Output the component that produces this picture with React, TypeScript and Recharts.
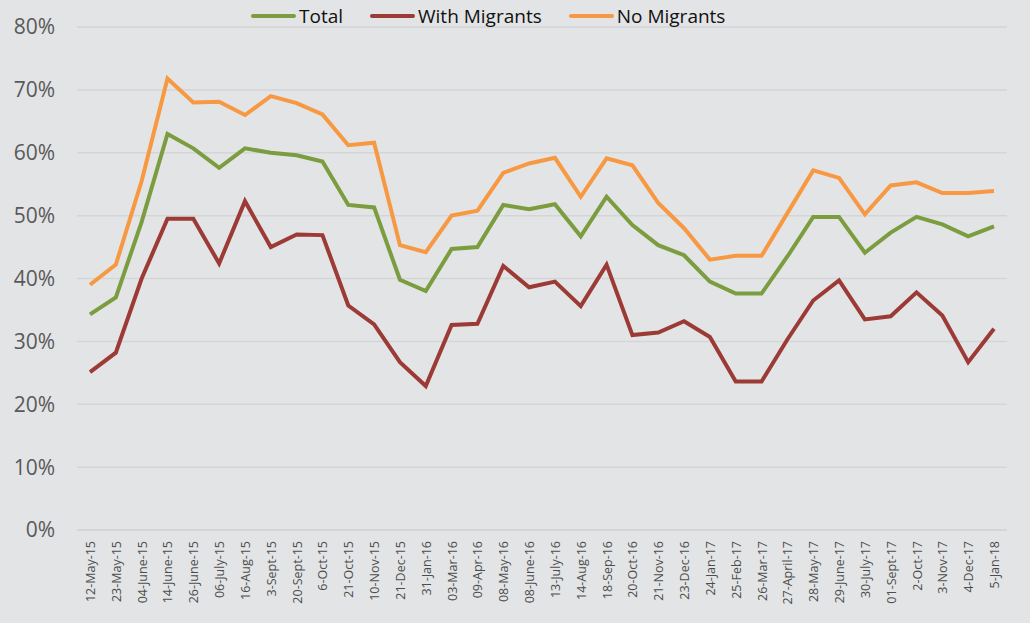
import React from 'react';
import { LineChart, Line, XAxis, YAxis, CartesianGrid } from 'recharts';

const dates = [
    '12-May-15', '23-May-15', '04-June-15', '14-June-15', '26-June-15', '06-July-15',
    '16-Aug-15', '3-Sept-15', '20-Sept-15', '6-Oct-15', '21-Oct-15', '10-Nov-15',
    '21-Dec-15', '31-Jan-16', '03-Mar-16', '09-Apr-16', '08-May-16', '08-June-16',
    '13-July-16', '14-Aug-16', '18-Sep-16', '20-Oct-16', '21-Nov-16', '23-Dec-16',
    '24-Jan-17', '25-Feb-17', '26-Mar-17', '27-April-17', '28-May-17', '29-June-17',
    '30-July-17', '01-Sept-17', '2-Oct-17', '3-Nov-17', '4-Dec-17', '5-Jan-18',
];

const total = [
    34.3, 37.0, 49.0, 63.0, 60.7, 57.6, 60.7, 60.0, 59.6, 58.6, 51.7, 51.3,
    39.8, 38.0, 44.7, 45.0, 51.7, 51.0, 51.8, 46.7, 53.0, 48.5, 45.3, 43.7,
    39.5, 37.6, 37.6, 43.5, 49.8, 49.8, 44.1, 47.3, 49.8, 48.6, 46.7, 48.3,
];

const withMigrants = [
    25.1, 28.2, 40.0, 49.5, 49.5, 42.4, 52.3, 45.0, 47.0, 46.9, 35.7, 32.7,
    26.7, 22.9, 32.6, 32.8, 42.0, 38.6, 39.5, 35.6, 42.2, 31.0, 31.4, 33.2,
    30.7, 23.6, 23.6, 30.3, 36.5, 39.7, 33.5, 34.0, 37.8, 34.1, 26.7, 32.0,
];

const noMigrants = [
    39.0, 42.2, 55.5, 71.8, 68.0, 68.1, 66.0, 69.0, 67.9, 66.1, 61.2, 61.6,
    45.3, 44.2, 50.0, 50.8, 56.8, 58.3, 59.2, 53.0, 59.1, 58.0, 52.0, 48.0,
    43.0, 43.6, 43.6, 50.4, 57.2, 56.0, 50.2, 54.8, 55.3, 53.6, 53.6, 53.9,
];

const yTicks = [0, 10, 20, 30, 40, 50, 60, 70, 80];

const data = dates.map((date, i) => ({
    date,
    total: total[i],
    withMigrants: withMigrants[i],
    noMigrants: noMigrants[i],
}));

const SERIES = [
    { key: 'total', name: 'Total', color: '#7b9d3f' },
    { key: 'withMigrants', name: 'With Migrants', color: '#9c3a36' },
    { key: 'noMigrants', name: 'No Migrants', color: '#f79942' },
];

const FONT = '"Open Sans", "Liberation Sans", sans-serif';

// legend sits over the plot top, so it is drawn outside the chart's layout
const TopLegend = () => (
    <div style={{ position: 'absolute', left: 251, top: 4, display: 'flex', alignItems: 'center', fontFamily: FONT, fontSize: 19, color: '#111', lineHeight: '24px' }}>
        {SERIES.map((s) => (
            <div key={s.key} style={{ display: 'flex', alignItems: 'center', marginRight: 27 }}>
                <div style={{ width: 45, height: 4, borderRadius: 2, background: s.color, marginRight: 3 }} />
                <span>{s.name}</span>
            </div>
        ))}
    </div>
);

const XTick = ({ x, y, payload }: any) => (
    <text
        x={x}
        y={y}
        transform={`rotate(-90, ${x}, ${y})`}
        dx={-3}
        dy={5}
        textAnchor="end"
        fill="#4d4d4d"
        fontSize={12.5}
        fontFamily={FONT}
    >
        {payload.value}
    </text>
);

export default function App() {
    return (
        <div style={{ position: 'absolute', left: 0, top: 0, width: 1030, height: 623, background: '#e3e4e6' }}>
            <LineChart width={1030} height={623} data={data} margin={{ top: 27, right: 23, left: 7, bottom: 0 }}>
                <CartesianGrid vertical={false} stroke="#d4d5d7" strokeWidth={1.5} />
                <XAxis
                    dataKey="date"
                    interval={0}
                    height={93}
                    padding={{ left: 13, right: 13 }}
                    tick={<XTick />}
                    axisLine={{ stroke: '#d4d5d7', strokeWidth: 1.5 }}
                    tickLine={false}
                />
                <YAxis
                    domain={[0, 80]}
                    ticks={yTicks}
                    width={70}
                    tickFormatter={(v: number) => `${v}%`}
                    axisLine={false}
                    tickLine={false}
                    tickSize={0}
                    tickMargin={22}
                    tick={{ fill: '#595959', fontSize: 21, fontFamily: FONT }}
                />
                {SERIES.map((s) => (
                    <Line
                        key={s.key}
                        type="linear"
                        dataKey={s.key}
                        name={s.name}
                        stroke={s.color}
                        strokeWidth={4}
                        dot={false}
                        isAnimationActive={false}
                    />
                ))}
            </LineChart>
            <TopLegend />
        </div>
    );
}
